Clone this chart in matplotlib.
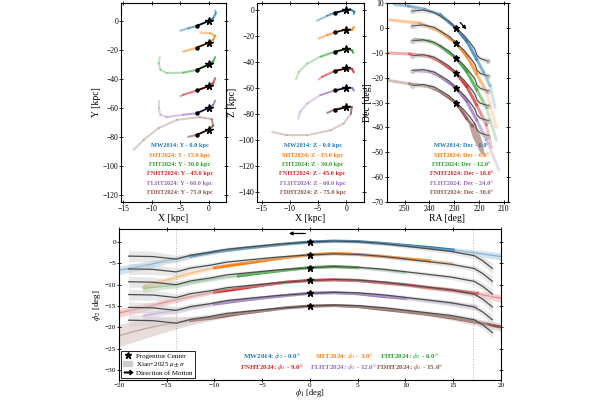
import numpy as np
import matplotlib
matplotlib.use('Agg')
import matplotlib.pyplot as plt
from matplotlib.collections import LineCollection
from matplotlib.lines import Line2D
from matplotlib.patches import Patch
from matplotlib.colors import to_rgba

plt.rcParams['font.family'] = 'serif'
plt.rcParams['font.serif'] = ['Liberation Serif', 'DejaVu Serif']
plt.rcParams['mathtext.fontset'] = 'stix'
plt.rcParams['font.size'] = 5.5

models = ['MW2014', 'SHT2024', 'FHT2024', 'FNHT2024', 'FLHT2024', 'FDHT2024']
colors = ['#1f77b4', '#ff7f0e', '#2ca02c', '#d62728', '#9467bd', '#8c564b']
off_kpc = [0.0, 15.0, 30.0, 45.0, 60.0, 75.0]
off_dec = [0.0, 6.0, 12.0, 18.0, 24.0, 30.0]
off_phi2 = [0.0, 3.0, 6.0, 9.0, 12.0, 15.0]

# --- X-Y plane, relative to progenitor (leading end -> trailing end)
xy_x = [[-5.0, -3.6, -2.1, 0, 0.75, 1.2, 1.1],
        [-4.5, -2.1, 0, 0.75, 1.1, 0.2, -1.5],
        [-8.6, -8.8, -8.5, -7.4, -4.5, -2.1, 0, 0.75, 1.1],
        [-5.0, -4.5, -2.1, 0, 0.75, 1.1],
        [-8.8, -8.8, -8.5, -7.4, -4.5, -2.1, 0, 0.75, 1.1],
        [-3.6, -2.1, 0, 0.75, 0.5, -1.6, -5.6, -8.8, -11.4, -13.2]]
xy_y = [[-6.7, -5.1, -3.4, 0, 1.8, 5.3, 7.1],
        [-6.2, -3.4, 0, 2.0, 4.7, 6.5, 7.0],
        [4.9, 0.8, -3.8, -6.0, -5.7, -3.8, 0, 2.1, 5.0],
        [-7.0, -6.0, -3.0, 0, 2.0, 5.5],
        [4.4, -0.2, -4.8, -6.4, -4.8, -3.7, 0, 2.0, 5.0],
        [-5.0, -3.6, 0, 2.8, 7.2, 8.6, 6.7, 1.0, -7.0, -14.0]]
orbit_xy_x = [-2.1, -2.1, -2.1, -2.1, -2.1, -2.1]
orbit_xy_y = [-3.4, -3.4, -3.8, -3.0, -3.7, -3.6]

# --- X-Z plane
xz_x = [[-5.2, -3.4, -2.1, 0, 0.7, 1.4, 1.3],
        [-4.9, -3.4, -2.1, 0, 1.0, 1.3],
        [-8.9, -8.4, -6.9, -4.6, -2.1, 0, 1.0, 1.2],
        [-4.9, -4.3, -2.1, 0, 1.0, 1.3],
        [-8.5, -8.2, -6.9, -4.6, -2.1, 0, 1.0, 1.3],
        [-3.4, -2.1, 0, 0.9, 0.8, -0.5, -2.8, -6.9, -10.5, -13.1]]
xz_z = [[-8.2, -4.4, -2.1, 0, 0.5, -1.3, -3.0],
        [-6.9, -4.3, -2.2, 0, -0.4, 2.0],
        [-23.5, -17.6, -11.2, -6.0, -2.2, 0, -1.0, -3.0],
        [-8.5, -6.5, -2.0, 0, -0.4, -3.0],
        [-23.6, -18.5, -12.0, -5.6, -2.0, 0, 0.0, -2.0],
        [-4.3, -1.7, 0, 0.0, -5.0, -12.5, -17.7, -21.5, -21.5, -19.0]]
orbit_xz_x = [-2.1, -2.1, -2.1, -2.1, -2.1, -2.1]
orbit_xz_z = [-2.1, -2.2, -2.2, -2.0, -2.0, -2.0]

# --- RA-Dec (Dec relative to offset)
prog_ra = 229.2
rd_ra = [[254, 248.5, 242, 235.7, 229.2, 224.9, 220.9, 218, 215.5, 213.5],
         [256, 244, 235.7, 229.2, 224.9, 220.9, 216.9, 213],
         [246, 240, 235.7, 229.2, 224.9, 220.9, 217, 213],
         [257, 248, 240, 235.7, 229.2, 224.9, 220.9, 217, 215],
         [246, 240, 235.7, 229.2, 224.9, 220.9, 217, 212],
         [257, 248, 240, 235.7, 229.2, 224.9, 222.5]]
rd_dec = [[9.5, 8.9, 7.6, 5.4, 0, -5.3, -12.6, -18, -23.2, -32],
          [9.3, 8.0, 4.7, 0, -5.3, -12.5, -19.8, -34],
          [7.5, 6.8, 4.8, 0, -5.5, -12.8, -20, -33],
          [8.0, 7.6, 6.6, 4.6, 0, -5.6, -13, -21, -30],
          [7.0, 6.5, 4.6, 0, -5.5, -13, -21, -33],
          [9.0, 7.6, 6.4, 4.5, 0, -6.4, -9.5]]
fan_ra = [224, 221.5, 218.5, 217.5, 219.5, 222.5]
fan_dec = [-9, -8, -16, -22, -20, -14]
xiao_ra = [247, 242.4, 238, 235.7, 232, 229.2, 226, 223.5, 221.6, 220.8, 219.5, 216.2]
xiao_dec = [6.9, 7.3, 6.3, 4.9, 2.7, 0, -3, -6, -8.6, -11.0, -12.2, -13.3]
xiao_dec_sig = [1.0, 0.9, 0.8, 0.7, 0.6, 0.6, 0.6, 0.7, 0.8, 0.9, 1.0, 1.1]

# --- phi1-phi2 (phi2 relative to offset)
phi1_grid = [-20, -17.5, -15, -12.5, -10, -7.5, -5, -2.5, 0, 2.5, 5, 7.5, 10, 12.5, 15, 17.5, 20]
nan = np.nan
phi2_stream = [
    [-6.6, -5.6, -4.4, -3.3, -2.3, -1.6, -1.0, -0.45, 0, 0.2, 0.1, -0.3, -0.8, -1.3, -1.9, -2.6, -3.4],
    [nan, -7.5, -5.9, -4.3, -3.0, -2.2, -1.4, -0.6, 0, 0.3, 0.1, -0.35, -0.9, -1.4, -2.0, nan, nan],
    [nan, -4.8, -4.3, -3.5, -2.6, -1.9, -1.2, -0.55, 0, 0.25, 0.0, -0.5, -1.2, nan, nan, nan, nan],
    [-7.6, -6.4, -5.0, -3.8, -2.7, -1.95, -1.1, -0.4, 0, 0.15, 0.0, -0.5, -1.0, -1.7, -2.3, -3.1, -4.2],
    [nan, -5.3, -4.3, -3.4, -2.5, -1.75, -1.1, -0.5, 0, 0.15, -0.1, -0.7, -1.2, -1.8, -2.5, -3.2, nan],
    [-6.9, -5.4, -4.2, -3.4, -2.7, -1.8, -1.1, -0.4, 0, 0.15, -0.1, -0.7, -1.3, -1.95, -2.8, -3.8, -4.9]]
dense_range = [(-14, 16), (-10, 13), (-9, 5), (-12, 17.5), (-12, 12), (-13, 20)]
stream_spread = [1.0, 0.9, 0.7, 0.5, 0.4, 0.3, 0.25, 0.2, 0.15, 0.2, 0.25, 0.3, 0.35, 0.45, 0.55, 0.7, 0.9]
fdht_spread = [2.6, 2.3, 1.8, 1.0, 0.5, 0.3, 0.25, 0.2, 0.15, 0.2, 0.25, 0.3, 0.35, 0.45, 0.6, 0.8, 1.0]
xiao_phi1 = [-19, -16.5, -14, -12.5, -10.5, -8.7, -6.25, -3.45, 0, 2.5, 5, 7.75, 11.25, 14.75, 17.2, 18.1, 19.1]
xiao_phi2 = [-3.3, -3.4, -4.0, -3.1, -2.45, -1.7, -1.15, -0.55, 0, 0.23, 0.1, -0.38, -1.29, -2.2, -3.2, -4.4, -6.2]
xiao_sig = [1.3, 1.2, 0.9, 0.7, 0.6, 0.5, 0.45, 0.4, 0.35, 0.35, 0.4, 0.45, 0.5, 0.6, 0.7, 0.9, 1.3]


def fade_line(ax, x, y, x0, y0, color, scale, lw=1.5, floor=0.3):
    x = np.asarray(x, float)
    y = np.asarray(y, float)
    i0 = np.argmin(np.hypot(x - x0, y - y0))
    cum = np.concatenate([[0], np.cumsum(np.hypot(np.diff(x), np.diff(y)))])
    dist = np.abs(cum - cum[i0])
    mid = 0.5 * (dist[:-1] + dist[1:])
    alpha = np.clip(1 - mid / scale, floor, 1)
    segs = np.stack([np.column_stack([x[:-1], y[:-1]]),
                     np.column_stack([x[1:], y[1:]])], axis=1)
    rgba = [to_rgba(color, a) for a in alpha]
    ax.add_collection(LineCollection(segs, colors=rgba, linewidths=lw, capstyle='round'))


def style(ax, size=5.5):
    ax.tick_params(direction='inout', top=True, right=True, length=2.5, width=0.6, labelsize=size, pad=0.8)
    for s in ax.spines.values():
        s.set_linewidth(0.8)


fig = plt.figure(figsize=(6, 4), dpi=100)
ax1 = fig.add_axes([0.2017, 0.495, 0.175, 0.498])
ax2 = fig.add_axes([0.4283, 0.495, 0.1783, 0.498])
ax3 = fig.add_axes([0.6445, 0.495, 0.2017, 0.498])
ax4 = fig.add_axes([0.1983, 0.05, 0.6367, 0.377])

text_rows = [0.282, 0.235, 0.188, 0.141, 0.095, 0.048]

# X-Y
for i in range(6):
    yy = [v - off_kpc[i] for v in xy_y[i]]
    fade_line(ax1, xy_x[i], yy, 0, -off_kpc[i], colors[i], 14)
    ax1.plot([0, orbit_xy_x[i]], [-off_kpc[i], orbit_xy_y[i] - off_kpc[i]], color='k', lw=1.0, zorder=4)
    ax1.plot(orbit_xy_x[i], orbit_xy_y[i] - off_kpc[i], 'o', color='k', ms=2.2, zorder=4)
    ax1.plot(0, -off_kpc[i], '*', color='k', ms=5.5, zorder=5)
    ax1.text(0.56, text_rows[i], f'{models[i]}: Y - {off_kpc[i]:.1f} kpc', color=colors[i],
             transform=ax1.transAxes, ha='center', va='center', fontsize=4.6, fontweight='bold')
ax1.set_xlim(-15.4, 3.0)
ax1.set_ylim(-125, 12.5)
ax1.set_xticks([-15, -10, -5, 0])
ax1.set_yticks(np.arange(-120, 1, 20))
ax1.set_xlabel('X [kpc]', fontsize=7, labelpad=1)
ax1.set_ylabel('Y [kpc]', fontsize=7, labelpad=1)
style(ax1)

# X-Z
for i in range(6):
    zz = [v - off_kpc[i] for v in xz_z[i]]
    fade_line(ax2, xz_x[i], zz, 0, -off_kpc[i], colors[i], 14)
    ax2.plot([0, orbit_xz_x[i]], [-off_kpc[i], orbit_xz_z[i] - off_kpc[i]], color='k', lw=1.0, zorder=4)
    ax2.plot(orbit_xz_x[i], orbit_xz_z[i] - off_kpc[i], 'o', color='k', ms=2.2, zorder=4)
    ax2.plot(0, -off_kpc[i], '*', color='k', ms=5.5, zorder=5)
    ax2.text(0.52, text_rows[i], f'{models[i]}: Z - {off_kpc[i]:.1f} kpc', color=colors[i],
             transform=ax2.transAxes, ha='center', va='center', fontsize=4.6, fontweight='bold')
ax2.set_xlim(-15.8, 3.1)
ax2.set_ylim(-148, 5.6)
ax2.set_xticks([-15, -10, -5, 0])
ax2.set_yticks(np.arange(-140, 1, 20))
ax2.set_xlabel('X [kpc]', fontsize=7, labelpad=1)
ax2.set_ylabel('Z [kpc]', fontsize=7, labelpad=1)
style(ax2)

# RA-Dec
for i in range(6):
    dd = [v - off_dec[i] for v in rd_dec[i]]
    fade_line(ax3, rd_ra[i], dd, prog_ra, -off_dec[i], colors[i], 40, lw=2.2, floor=0.2)
    xd = np.array(xiao_dec) - off_dec[i]
    sg = np.array(xiao_dec_sig)
    ax3.fill_between(xiao_ra, xd - sg, xd + sg, color='0.8', alpha=0.5, lw=0, zorder=3)
    ax3.plot(xiao_ra, xd, color='0.3', lw=0.8, zorder=4)
    ax3.plot([xiao_ra[0], xiao_ra[-1]], [xd[0], xd[-1]], 'o', mfc='none', mec='0.6', ms=2.5, mew=0.5, zorder=4)
    ax3.plot(prog_ra, -off_dec[i], '*', color='k', ms=4.5, zorder=5)
    ax3.text(0.62, text_rows[i], f'{models[i]}: Dec - {off_dec[i]:.1f}°', color=colors[i],
             transform=ax3.transAxes, ha='center', va='center', fontsize=4.6, fontweight='bold')
ax3.fill(fan_ra, [v - off_dec[5] for v in fan_dec], color=colors[5], alpha=0.55, lw=0, zorder=2)
ax3.annotate('', xy=(224.3, -1.3), xytext=(228.3, 3.1),
             arrowprops=dict(arrowstyle='-|>', color='k', lw=0.9, mutation_scale=5))
ax3.set_xlim(257.2, 208.4)
ax3.set_ylim(-70, 10.2)
ax3.set_xticks([250, 240, 230, 220, 210])
ax3.set_yticks(np.arange(-70, 11, 10))
ax3.set_xlabel('RA [deg]', fontsize=7, labelpad=1)
ax3.set_ylabel('Dec [deg]', fontsize=7, labelpad=0)
style(ax3)

# phi1-phi2
p1 = np.array(phi1_grid, float)
for i in range(6):
    p2 = np.array(phi2_stream[i]) - off_phi2[i]
    sp = np.array(fdht_spread if i == 5 else stream_spread)
    ax4.fill_between(p1, p2 - sp, p2 + sp, color=colors[i], alpha=0.2, lw=0, zorder=1)
    ax4.plot(p1, p2, color=colors[i], lw=1.0, alpha=0.4, zorder=2)
    lo, hi = dense_range[i]
    m = (p1 >= lo) & (p1 <= hi)
    ax4.plot(p1[m], p2[m], color=colors[i], lw=2.2, zorder=2)
    xp = np.array(xiao_phi2) - off_phi2[i]
    xs = np.array(xiao_sig)
    ax4.fill_between(xiao_phi1, xp - xs, xp + xs, color='0.8', alpha=0.45, lw=0, zorder=3)
    ax4.plot(xiao_phi1, xp, color='0.3', lw=0.9, zorder=4)
    ax4.plot(0, -off_phi2[i], '*', color='k', ms=5, zorder=5)

ax4.axvline(-14, color='0.7', ls=':', lw=0.7, zorder=0)
ax4.axvline(17.1, color='0.7', ls=':', lw=0.7, zorder=0)
ax4.annotate('', xy=(-2.5, 2.0), xytext=(-0.2, 2.0),
             arrowprops=dict(arrowstyle='-|>', color='k', lw=0.9, mutation_scale=5))

text_x = [-3.95, 3.55, 10.45]
text_y = [-26.6, -29.3]
for i in range(6):
    ax4.text(text_x[i % 3], text_y[i // 3], f'{models[i]}: $\\phi_2$ - {off_phi2[i]:.1f}°',
             color=colors[i], ha='center', va='center', fontsize=5, fontweight='bold')

handles = [Line2D([], [], marker='*', color='k', ls='none', ms=5),
           Patch(facecolor='0.8', edgecolor='0.8'),
           Line2D([], [], marker=r'$\rightarrow$', color='k', ls='none', ms=6)]
leg = ax4.legend(handles, ['Progenitor Center', 'Xiao+2025 $\\mu \\pm \\sigma$', 'Direction of Motion'],
                 loc='lower left', fontsize=5, fancybox=False, edgecolor='k', framealpha=1,
                 borderaxespad=0.3, handlelength=1.3, labelspacing=0.15, borderpad=0.3,
                 handletextpad=0.6)
leg.get_frame().set_linewidth(0.6)

ax4.set_xlim(-20, 20)
ax4.set_ylim(-32.3, 3.0)
ax4.set_xticks(np.arange(-20, 21, 5))
ax4.set_yticks(np.arange(-30, 1, 5))
ax4.set_xlabel('$\\phi_1$ [deg]', fontsize=6, va='bottom')
ax4.xaxis.set_label_coords(0.5, -0.128)
ax4.set_ylabel('$\\phi_2$ [deg]', fontsize=6.5, labelpad=1)
style(ax4, size=5.2)

fig.savefig('out.png', dpi=100)
